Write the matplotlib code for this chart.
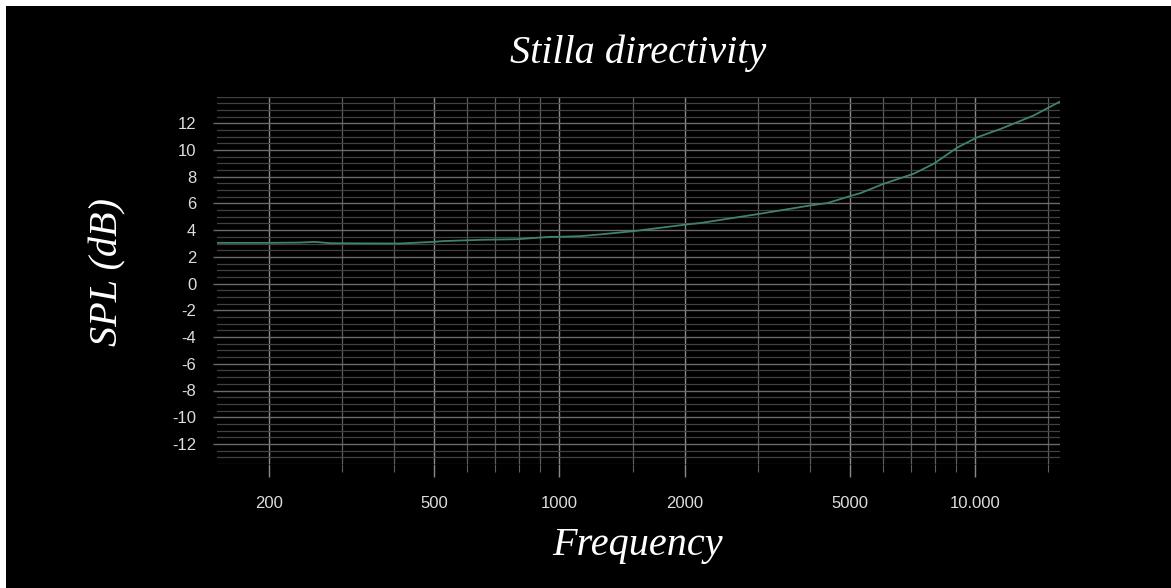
import matplotlib
matplotlib.use("Agg")
import matplotlib.pyplot as plt
from matplotlib.patches import Rectangle
from matplotlib.ticker import FixedLocator, FixedFormatter, NullFormatter

plt.rcParams["axes.unicode_minus"] = False

# Datos (frecuencia en Hz, SPL en dB)
frecuencia = [150, 200, 237, 258, 282, 413, 496, 525, 654, 791, 949, 1000, 1121,
              1253, 1504, 2028, 2181, 3043, 4015, 4413, 5070, 5300, 6026, 7115,
              7950, 9080, 10140, 11530, 13830, 16000]
spl = [3.05, 3.05, 3.07, 3.12, 3.02, 3.0, 3.12, 3.18, 3.28, 3.32, 3.5, 3.5, 3.55,
       3.68, 3.92, 4.43, 4.53, 5.23, 5.85, 6.03, 6.6, 6.77, 7.47, 8.22,
       8.97, 10.2, 10.96, 11.58, 12.58, 13.62]

ticks_x = [200, 500, 1000, 2000, 5000, 10000]
etiquetas_x = ["200", "500", "1000", "2000", "5000", "10.000"]
ticks_x_menores = [300, 400, 600, 700, 800, 900, 1500, 3000, 4000, 6000, 7000,
                   8000, 9000, 15000]
ticks_y = list(range(-12, 13, 2))

W, H = 1171, 588
fig = plt.figure(figsize=(W / 100, H / 100), dpi=100, facecolor="white")
# fondo negro con borde blanco arriba e izquierda
fig.patches.append(Rectangle((6 / W, 0), 1, 1 - 6 / H, transform=fig.transFigure,
                             facecolor="black", edgecolor="none", zorder=-10))

ax = fig.add_axes([217 / W, 1 - 464 / H, 843 / W, 367.5 / H])
ax.set_facecolor("black")
ax.set_xscale("log")
ax.set_xlim(150, 16000)
ax.set_ylim(-13.5, 14)

ax.plot(frecuencia, spl, color="#3f8272", linewidth=1.3, zorder=3)

ax.xaxis.set_major_locator(FixedLocator(ticks_x))
ax.xaxis.set_major_formatter(FixedFormatter(etiquetas_x))
ax.xaxis.set_minor_locator(FixedLocator(ticks_x_menores))
ax.xaxis.set_minor_formatter(NullFormatter())
ax.yaxis.set_major_locator(FixedLocator(ticks_y))
ax.yaxis.set_minor_locator(FixedLocator([v / 2 for v in range(-27, 29)]))

for s in ax.spines.values():
    s.set_visible(False)

ax.tick_params(axis="x", which="major", length=9, width=1, color="#8a8a8a",
               labelcolor="#dddddd", pad=14)
ax.tick_params(axis="x", which="minor", length=6, width=0.8, color="#5e5e5e")
ax.tick_params(axis="y", which="major", length=3, width=1, color="#666666",
               labelcolor="#dddddd", pad=12)
ax.tick_params(axis="y", which="minor", length=0)
for lbl in ax.get_xticklabels() + ax.get_yticklabels():
    lbl.set_fontfamily("Liberation Sans")
    lbl.set_fontsize(12)

ax.grid(True, axis="x", which="major", color="#8a8a8a", linewidth=1.0)
ax.grid(True, axis="x", which="minor", color="#5e5e5e", linewidth=0.9)
ax.grid(True, axis="y", which="major", color="#6a6a6a", linewidth=1.0)
ax.grid(True, axis="y", which="minor", color="#414141", linewidth=0.9)

fuente_titulo = {"family": "Liberation Serif", "style": "italic", "color": "white"}
fig.text(638 / W, 1 - 63 / H, "Stilla directivity", fontsize=29,
         ha="center", va="baseline", **fuente_titulo)
fig.text(638 / W, 1 - 555 / H, "Frequency", fontsize=29,
         ha="center", va="baseline", **fuente_titulo)
fig.text(108 / W, 1 - 272 / H, "SPL (dB)", fontsize=29, rotation=90,
         ha="center", va="center", **fuente_titulo)

fig.savefig("out.png", dpi=100, facecolor=fig.get_facecolor())
